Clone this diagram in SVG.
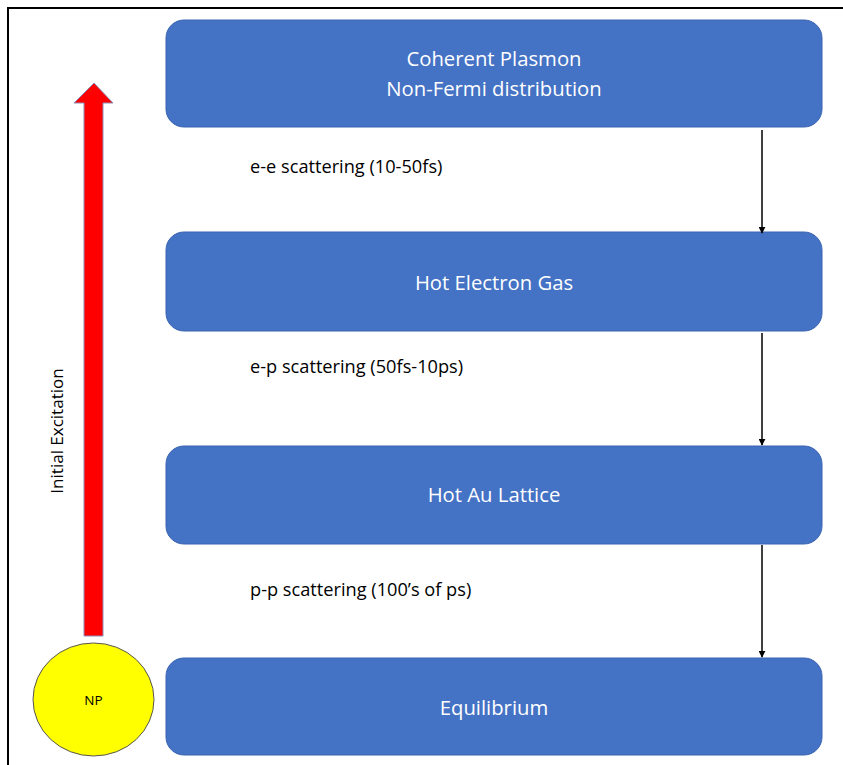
<svg xmlns="http://www.w3.org/2000/svg" width="843" height="765" viewBox="0 0 843 765">
<defs>
<style>
.box{fill:#4472C4;stroke:#3A64B0;stroke-width:1}
.bt{font-family:"Open Sans","Liberation Sans",Arial,sans-serif;font-size:20.3px;fill:#ffffff;text-anchor:middle}
.lbl{font-family:"Open Sans","Liberation Sans",Arial,sans-serif;font-size:18.2px;fill:#000000}
.conn{stroke:#000;stroke-width:1.5;fill:none;marker-end:url(#ah)}
</style>
<marker id="ah" viewBox="0 0 10 10" refX="9" refY="5" markerWidth="7" markerHeight="7" orient="auto" markerUnits="userSpaceOnUse">
<path d="M0,0 L10,5 L0,10 Z" fill="#000"/>
</marker>
</defs>
<rect width="843" height="765" fill="#fff"/>
<path d="M8,765 L8,8 L843,8" fill="none" stroke="#000" stroke-width="2"/>

<g id="n1"><rect class="box" x="166" y="20" width="656" height="107" rx="18"/>
<text class="bt" x="494" y="66">Coherent Plasmon</text>
<text class="bt" x="494" y="96">Non-Fermi distribution</text></g>
<g id="n2"><rect class="box" x="166" y="232" width="656" height="99" rx="18"/>
<text class="bt" x="494" y="290">Hot Electron Gas</text></g>
<g id="n3"><rect class="box" x="166" y="446" width="656" height="98" rx="18"/>
<text class="bt" x="494" y="502">Hot Au Lattice</text></g>
<g id="n4"><rect class="box" x="166" y="658" width="656" height="97" rx="18"/>
<text class="bt" x="494" y="715">Equilibrium</text></g>

<g id="np"><ellipse cx="93.5" cy="699.5" rx="60.5" ry="56.5" fill="#FFFF00" stroke="#555" stroke-width="1"/>
<text x="93.5" y="705" font-family="'Open Sans','Liberation Sans',Arial,sans-serif" font-size="13.5" text-anchor="middle">NP</text></g>

<g id="excitation">
<path d="M84,636 L84,103 L74,103 L94,83 L113,103 L103,103 L103,636 Z" fill="#FF0000" stroke="#8C8FB8" stroke-width="1"/>
<text x="0" y="0" transform="translate(63,431) rotate(-90)" font-family="'Open Sans','Liberation Sans',Arial,sans-serif" font-size="17" text-anchor="middle">Initial Excitation</text>
</g>

<g id="connectors">
<line class="conn" x1="762" y1="130" x2="762" y2="233"/>
<line class="conn" x1="762" y1="333" x2="762" y2="445"/>
<line class="conn" x1="762" y1="545" x2="762" y2="657"/>
<text class="lbl" x="250" y="173">e-e scattering (10-50fs)</text>
<text class="lbl" x="250" y="373">e-p scattering (50fs-10ps)</text>
<text class="lbl" x="250" y="596">p-p scattering (100’s of ps)</text>
</g>
</svg>
